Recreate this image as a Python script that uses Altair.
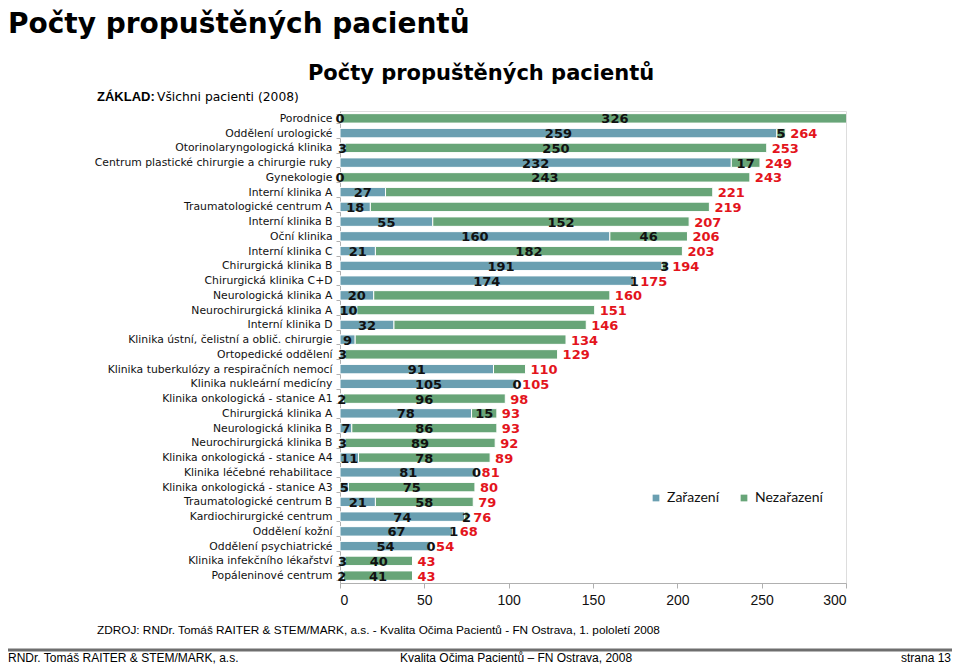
import altair as alt
import pandas as pd

categories = [
    "Porodnice", "Oddělení urologické", "Otorinolaryngologická klinika",
    "Centrum plastické chirurgie a chirurgie ruky", "Gynekologie", "Interní klinika A",
    "Traumatologické centrum A", "Interní klinika B", "Oční klinika", "Interní klinika C",
    "Chirurgická klinika B", "Chirurgická klinika C+D", "Neurologická klinika A",
    "Neurochirurgická klinika A", "Interní klinika D", "Klinika ústní, čelistní a oblič. chirurgie",
    "Ortopedické oddělení", "Klinika tuberkulózy a respiračních nemocí", "Klinika nukleární medicíny",
    "Klinika onkologická - stanice A1", "Chirurgická klinika A", "Neurologická klinika B",
    "Neurochirurgická klinika B", "Klinika onkologická - stanice A4", "Klinika léčebné rehabilitace",
    "Klinika onkologická - stanice A3", "Traumatologické centrum B", "Kardiochirurgické centrum",
    "Oddělení kožní", "Oddělení psychiatrické", "Klinika infekčního lékařství", "Popáleninové centrum",
]
zarazeni = [0, 259, 3, 232, 0, 27, 18, 55, 160, 21, 191, 174, 20, 10, 32, 9,
            3, 91, 105, 2, 78, 7, 3, 11, 81, 5, 21, 74, 67, 54, 3, 2]
nezarazeni = [326, 5, 250, 17, 243, 194, 201, 152, 46, 182, 3, 1, 140, 141, 114, 125,
              126, 19, 0, 96, 15, 86, 89, 78, 0, 75, 58, 2, 1, 0, 40, 41]
# green segment labels that are shown in the reference (False = hidden there)
nez_label_shown = [True, True, True, True, True, False, False, True, True, True, True, True,
                   False, False, False, False, False, False, True, True, True, True, True, True,
                   True, True, True, True, True, True, True, True]
series = ["Zařazení", "Nezařazení"]
colors = ["#6a9fb1", "#68a578"]

rows = []
for i, c in enumerate(categories):
    rows.append(dict(cat=c, serie=series[0], ord=0, value=zarazeni[i], label=str(zarazeni[i])))
    rows.append(dict(cat=c, serie=series[1], ord=1, value=nezarazeni[i],
                     label=str(nezarazeni[i]) if nez_label_shown[i] else ""))
df = pd.DataFrame(rows)
tot = pd.DataFrame(dict(cat=categories, total=[a + b for a, b in zip(zarazeni, nezarazeni)]))

yenc = alt.Y("cat:N", sort=categories,
             scale=alt.Scale(paddingInner=0.36, paddingOuter=0.18),
             axis=alt.Axis(title=None, labelFont="DejaVu Sans", labelFontSize=10.8,
                           labelColor="#111", domainColor="#b0b0b0", tickColor="#b0b0b0",
                           tickSize=4, labelPadding=4, tickBand="extent", labelLimit=400))

base = alt.Chart(df).transform_stack(
    stack="value", groupby=["cat"], as_=["x0", "x1"],
    sort=[alt.SortField("ord", order="ascending")]
).transform_calculate(mid="(datum.x0 + datum.x1) / 2")

bars = base.mark_bar(clip=True, stroke="white", strokeWidth=1).encode(
    x=alt.X("x0:Q", scale=alt.Scale(domain=[0, 300], nice=False),
            axis=alt.Axis(title=None, values=[0, 50, 100, 150, 200, 250, 300], grid=False,
                          labelFont="Liberation Sans", labelFontSize=14, labelColor="#111",
                          domainColor="#b0b0b0", tickColor="#b0b0b0", tickSize=5, labelPadding=5)),
    x2="x1:Q",
    y=yenc,
    color=alt.Color("serie:N", scale=alt.Scale(domain=series, range=colors),
                    legend=alt.Legend(title=None, orient="none", legendX=309, legendY=380,
                                      direction="horizontal", symbolType="square", symbolSize=45,
                                      symbolStrokeWidth=0, labelFont="Lato", labelFontSize=14,
                                      labelColor="#111", columnPadding=17, labelOffset=4,
                                      padding=0)),
)

seg_labels = base.mark_text(font="DejaVu Sans", fontWeight="bold", fontSize=13, color="#111",
                            align="center", baseline="middle", dy=1).encode(
    x="mid:Q", y=alt.Y("cat:N", sort=categories), text="label:N")

tot_labels = alt.Chart(tot).mark_text(font="DejaVu Sans", fontWeight="bold", fontSize=13,
                                      color="#e3141c", align="left", baseline="middle",
                                      dx=5, dy=1, clip=True).encode(
    x="total:Q", y=alt.Y("cat:N", sort=categories), text="total:Q")

def note(text, x, y, size, weight="normal", font="DejaVu Sans", align="left", color="#000"):
    return alt.Chart(pd.DataFrame({"t": [text]})).mark_text(
        font=font, fontSize=size, fontWeight=weight, align=align, baseline="alphabetic",
        color=color).encode(x=alt.value(x), y=alt.value(y), text="t:N")

big_title = note("Počty propuštěných pacientů", -332, -78, 28, "bold")
chart_title = note("Počty propuštěných pacientů", 141, -31, 21, "bold", align="center")
zaklad_b = note("ZÁKLAD:", -243, -10, 13, "bold", font="Liberation Sans")
zaklad_r = note("Všichni pacienti (2008)", -183, -10, 12.3)
source = note("ZDROJ: RNDr. Tomáš RAITER & STEM/MARK, a.s. -  Kvalita Očima Pacientů - FN Ostrava, 1. pololetí 2008",
              -243, 523, 11.8, font="Liberation Sans")
foot_l = note("RNDr. Tomáš RAITER & STEM/MARK, a.s.", -332, 551, 12, font="Liberation Sans")
foot_c = note("Kvalita Očima Pacientů – FN Ostrava, 2008", 60, 551, 12, font="Liberation Sans")
foot_r = note("strana 13", 611, 551, 12, font="Liberation Sans", align="right")

line = alt.Chart(pd.DataFrame({"a": [0]})).mark_rule(color="#6e6e6e", strokeWidth=3).encode(
    x=alt.value(-340), x2=alt.value(620), y=alt.value(539))

chart = alt.layer(
    bars, seg_labels, tot_labels, big_title, chart_title, zaklad_b, zaklad_r,
    source, line, foot_l, foot_c, foot_r
).properties(
    width=506, height=472,
    autosize=alt.AutoSizeParams(type="none"),
    padding={"left": 332, "top": 103, "right": 106, "bottom": 82},
).configure_view(stroke=None).configure(background="white")

chart.save("out.html", embed_options={"renderer": "svg", "actions": False})
